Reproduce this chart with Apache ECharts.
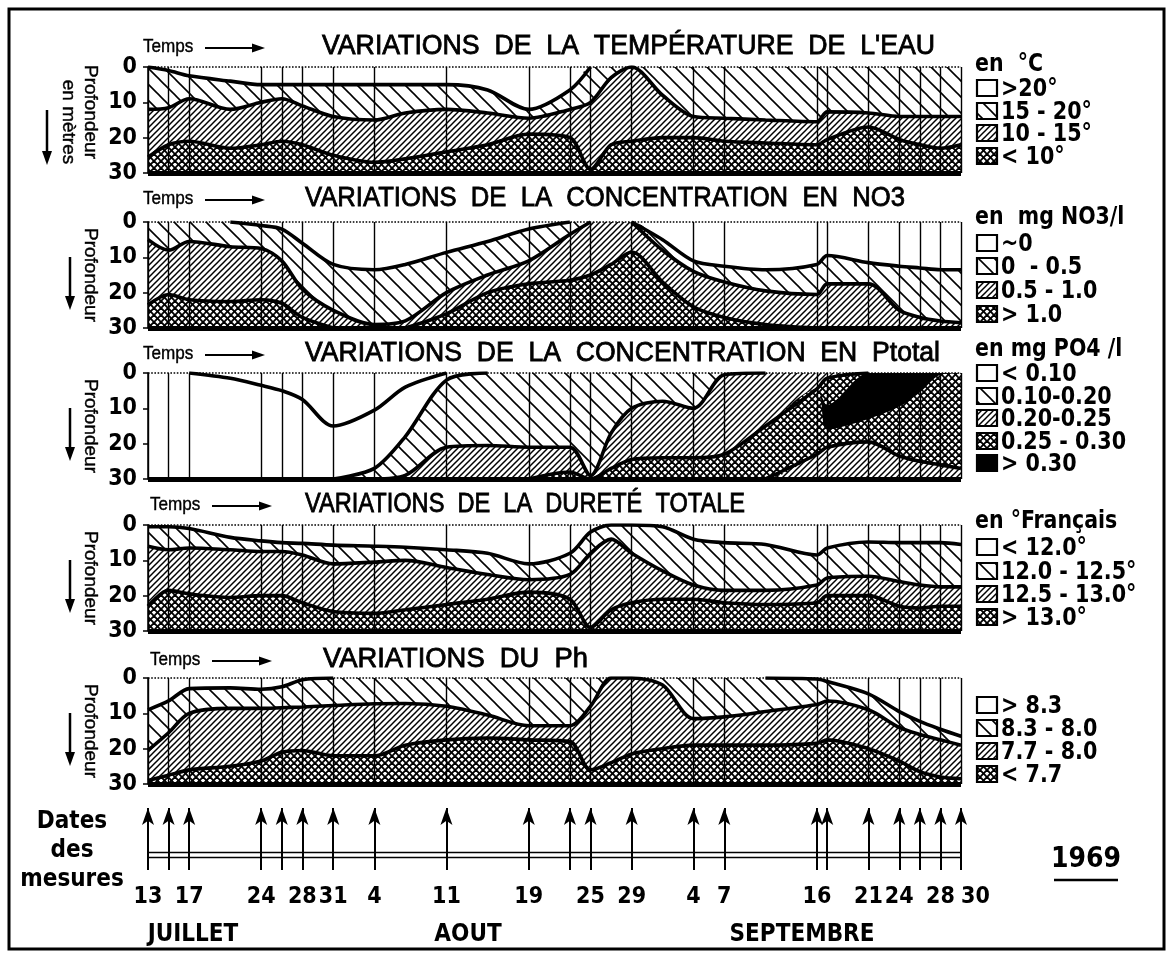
<!DOCTYPE html>
<html>
<head>
<meta charset="utf-8">
<script src="https://cdn.jsdelivr.net/npm/echarts@6/dist/echarts.min.js"></script>
<style>
  html, body { margin: 0; background: #fff; }
  #chart { width: 1171px; height: 958px; }
</style>
</head>
<body>
<div id="chart"></div>
<script>
// jours depuis le 13 juillet 1969
const days = [0, 2, 4, 8, 11, 13, 15, 18, 22, 25, 29, 33, 37, 41, 43, 45, 47, 50, 53, 56, 60, 65, 66, 70, 73, 75, 77, 79];
const measureDays = [0, 2, 4, 11, 13, 15, 18, 22, 29, 37, 41, 43, 47, 53, 56, 65, 66, 70, 73, 75, 77, 79];
const labelDays = [0, 4, 11, 15, 18, 22, 29, 37, 43, 47, 53, 56, 65, 70, 73, 77, 79];
const labelTexts = ['13', '17', '24', '28', '31', '4', '11', '19', '25', '29', '4', '7', '16', '21', '24', '28', '30'];
const months = ['JUILLET', 'AOUT', 'SEPTEMBRE'];

// profondeur (m) des limites, temperature
const temp20 = [0, 1, 2.5, 4, 5, 5, 5, 5, 5, 5, 5, 6.5, 12, 6.5, 0, 0, 0, 0, 0, 0, 0, 0, 0, 0, 0, 0, 0, 0];
const temp15 = [12, 11.5, 9, 12, 10, 9, 11, 14, 15, 13, 12, 13, 14.5, 12, 10, 3, 0, 8, 14, 14.5, 15, 15.5, 12.7, 13, 14, 14, 14, 14];
const temp10 = [25.5, 22, 21, 23, 22, 21, 22, 25, 27, 26, 24, 22, 19, 20, 29, 22, 21, 20, 20, 21, 21.5, 22, 20.5, 17, 20.5, 22, 23, 22];

// NO3
const no3Zero = [0, 0, 0, 0, 1, 2, 6, 12, 13.5, 12, 8.6, 5.5, 2, 0, 0, 0, 0, 5, 11, 12.5, 13.5, 12, 9.5, 11.5, 12.5, 13, 13.5, 13.5];
const no3Half = [5, 8, 5.5, 7, 7.5, 11, 19, 25, 29, 28, 20, 15, 11, 3.5, 0, 0, 0, 8, 14, 17, 19.5, 20.5, 17.5, 17.5, 25, 27, 28, 28.5];
const no3One = [23.5, 20.5, 22, 22.5, 22, 23, 27, 30, 30, 30, 26, 20, 17.5, 16.5, 15, 12, 8.5, 17, 24, 27, 29, 30, 30, 30, 30, 30, 30, 30];

// P total
const pCurve = [0, 0, 0, 1.5, 3.5, 5, 7.5, 15, 10.5, 4, 0, 0, 0, 0, 0, 0, 0, 0, 0, 0, 0, 0, 0, 0, 0, 0, 0, 0];
const p010 = [30, 30, 30, 30, 30, 30, 30, 30, 27, 18, 2, 0, 0, 0, 0, 0, 0, 0, 0, 0, 0, 0, 0, 0, 0, 0, 0, 0];
const p020 = [30, 30, 30, 30, 30, 30, 30, 30, 30, 29, 21, 20.5, 21, 21, 29, 17, 10, 8, 10, 0.5, 0, 0, 0, 0, 0, 0, 0, 0];
const p025 = [30, 30, 30, 30, 30, 30, 30, 30, 30, 30, 30, 30, 30, 28, 30, 27, 24.5, 24, 24, 23, 15, 4.5, 1.5, 0, 0, 0, 0, 0];
const p030Top = [30, 30, 30, 30, 30, 30, 30, 30, 30, 30, 30, 30, 30, 28, 30, 27, 24.5, 24, 24, 23, 15, 4.5, 9, 0, 0, 0, 0, 0];
const p030Bot = [30, 30, 30, 30, 30, 30, 30, 30, 30, 30, 30, 30, 30, 28, 30, 27, 24.5, 24, 24, 23, 15, 4.5, 16, 13, 9.5, 5.5, 0.5, 0];
const pDeep = [30, 30, 30, 30, 30, 30, 30, 30, 30, 30, 30, 30, 30, 30, 30, 30, 30, 30, 30, 30, 30, 23, 21, 19.5, 23.5, 25, 26, 27];

// durete totale
const hard120 = [0.5, 0.5, 1, 3.5, 4.5, 5, 5.2, 5.7, 6, 6.3, 7, 8, 11, 8, 2, 0, 0, 0.5, 4, 5, 5.5, 8.5, 6.5, 4.8, 5, 5, 5, 5.5];
const hard125 = [6, 7, 6.5, 7, 7.5, 7.5, 8.5, 11, 10.5, 10, 12, 14, 15.5, 14, 8, 4, 8, 13, 17, 18.5, 18.5, 17, 15, 14.5, 16, 17, 17.5, 17.5];
const hard130 = [23, 18.5, 19.5, 20.5, 20, 20, 22, 24.5, 25, 24, 22.5, 21, 19, 21, 29, 24, 22, 21, 21, 22, 22.5, 22, 20, 20, 23, 23.5, 23, 23];

// pH
const ph83 = [9, 6.5, 3, 2.8, 3.2, 2.5, 0.5, 0, 0, 0, 0, 0, 0, 0, 0, 0, 0, 0, 0, 0, 0, 0.3, 1, 4.5, 9.5, 12.3, 14.5, 16.5];
const ph80 = [20.5, 15.5, 10, 8.6, 8.6, 8.4, 8.2, 7.8, 7.3, 7.2, 8, 10.5, 13.5, 13.5, 8, 0, 0, 2, 11.5, 11, 9.5, 7.5, 6.5, 9, 14, 16, 17.5, 19];
const ph77 = [29, 27.5, 26, 25, 23.5, 21, 20.5, 22, 22, 19, 17.5, 17, 17.5, 18, 26, 24, 21.5, 20, 19, 19, 19, 18.5, 17.5, 20, 23.5, 26.5, 28, 28.5];

const FONT = '"Liberation Sans Narrow","DejaVu Sans Condensed","Liberation Sans",sans-serif';
const PLAIN = '"Liberation Sans",Arial,sans-serif';

function makePat(s, dirs, lw) {
  const c = document.createElement('canvas');
  c.width = s; c.height = s;
  const g = c.getContext('2d');
  g.fillStyle = '#fff';
  g.fillRect(0, 0, s, s);
  g.strokeStyle = '#000';
  g.lineWidth = lw;
  dirs.forEach(dir => {
    for (let k = -1; k <= 1; k++) {
      g.beginPath();
      if (dir === 'b') { g.moveTo(k * s - 1, -1); g.lineTo(k * s + s + 1, s + 1); }
      else { g.moveTo(k * s - 1, s + 1); g.lineTo(k * s + s + 1, -1); }
      g.stroke();
    }
  });
  return { image: c, repeat: 'repeat' };
}

const PAT = {
  white: '#fff',
  sparse: makePat(16, ['b'], 1.6),
  dense: makePat(6, ['f'], 1.5),
  cross: makePat(7, ['b', 'f'], 1.9),
  black: '#000'
};

const panels = [
  { top: 67, bounds: [temp20, temp15, temp10], fills: ['sparse', 'dense', 'cross'], strokes: [1, 1, 1] },
  { top: 222, bounds: [no3Zero, no3Half, no3One], fills: ['sparse', 'dense', 'cross'], strokes: [1, 1, 1] },
  { top: 373, bounds: [pCurve, p010, p020, p025, p030Top, p030Bot, pDeep],
    fills: ['white', 'sparse', 'dense', 'cross', 'black', 'cross', 'dense'], strokes: [1, 1, 1, 1, 0, 0, 1] },
  { top: 525, bounds: [hard120, hard125, hard130], fills: ['sparse', 'dense', 'cross'], strokes: [1, 1, 1] },
  { top: 678, bounds: [ph83, ph80, ph77], fills: ['sparse', 'dense', 'cross'], strokes: [1, 1, 1] }
];
const PH = 106;

function strokeData(arr) {
  const inside = v => v > 0.01 && v < 29.99;
  return days.map((d, j) => {
    const keep = inside(arr[j]) || (j > 0 && inside(arr[j - 1])) || (j < arr.length - 1 && inside(arr[j + 1]));
    return [d, keep ? arr[j] : null];
  });
}

const grids = [], xAxes = [], yAxes = [], series = [];
panels.forEach((p, i) => {
  grids.push({ left: 148, right: 210, top: p.top, height: PH });
  xAxes.push({ gridIndex: i, type: 'value', min: 0, max: 79, show: false });
  yAxes.push({
    gridIndex: i, type: 'value', inverse: true, min: 0, max: 30, interval: 10, offset: 8,
    axisLine: { show: true, lineStyle: { color: '#000', width: 1.5 } },
    axisTick: { show: true, length: 5, lineStyle: { color: '#000', width: 1.5 } },
    axisLabel: { color: '#000', fontSize: 23, fontWeight: 'bold', fontFamily: FONT, margin: 3 },
    splitLine: { show: false }
  });
  p.bounds.forEach((arr, k) => {
    series.push({
      type: 'line', xAxisIndex: i, yAxisIndex: i, silent: true, z: 2,
      data: days.map((d, j) => [d, arr[j]]),
      smooth: 0.3, symbol: 'none',
      lineStyle: { width: 0, opacity: 0 },
      areaStyle: { color: PAT[p.fills[k]], opacity: 1, origin: 'end' }
    });
  });
  series.push({
    type: 'line', xAxisIndex: i, yAxisIndex: i, silent: true, z: 3,
    data: [[0, 0]], symbol: 'none', lineStyle: { opacity: 0 },
    markLine: {
      silent: true, symbol: 'none', animation: false, label: { show: false },
      data: measureDays.map(d => ({ xAxis: d, lineStyle: { color: '#000', width: 1.4, type: 'solid' } }))
        .concat([
          { yAxis: 0, lineStyle: { color: '#000', width: 1.6, type: 'dotted' } },
          { yAxis: 30, lineStyle: { color: '#000', width: 5, type: 'solid' } }
        ])
    }
  });
  p.bounds.forEach((arr, k) => {
    if (!p.strokes[k]) return;
    series.push({
      type: 'line', xAxisIndex: i, yAxisIndex: i, silent: true, z: 4,
      data: strokeData(arr), connectNulls: false,
      smooth: 0.3, symbol: 'none',
      lineStyle: { color: '#000', width: 3.6 }
    });
  });
});

// frise des dates de mesure ; le dernier libelle (30) sur un second axe, cale a droite de sa fleche
const labelMap = {};
labelDays.forEach((d, i) => { labelMap[d] = labelTexts[i]; });
const dateLabelStyle = { color: '#000', fontSize: 23, fontWeight: 'bold', fontFamily: FONT, margin: 16 };
grids.push({ left: 148, right: 210, top: 808, height: 62 });
xAxes.push({
  gridIndex: 5, type: 'value', min: 0, max: 79, position: 'bottom',
  axisLine: { show: false }, axisTick: { show: false }, splitLine: { show: false },
  axisLabel: Object.assign({ customValues: labelDays.slice(0, -1), formatter: v => labelMap[v] || '' }, dateLabelStyle)
});
xAxes.push({
  gridIndex: 5, type: 'value', min: 0, max: 79, position: 'bottom',
  axisLine: { show: false }, axisTick: { show: false }, splitLine: { show: false },
  axisLabel: Object.assign({ customValues: labelDays.slice(-1), formatter: v => labelMap[v] || '', align: 'left' }, dateLabelStyle)
});
yAxes.push({ gridIndex: 5, type: 'value', min: 0, max: 1, show: false });
series.push({
  type: 'line', xAxisIndex: 5, yAxisIndex: 5, silent: true, z: 3,
  data: [[0, 0]], symbol: 'none', lineStyle: { opacity: 0 },
  markLine: {
    silent: true, symbol: 'none', animation: false, label: { show: false },
    data: [
      { yAxis: 0.28, lineStyle: { color: '#000', width: 1.4, type: 'solid' } },
      { yAxis: 0.2, lineStyle: { color: '#000', width: 1.4, type: 'solid' } }
    ]
  }
});
series.push({
  type: 'line', xAxisIndex: 5, yAxisIndex: 5, silent: true, z: 4,
  data: [[0, 0]], symbol: 'none', lineStyle: { opacity: 0 },
  markLine: {
    silent: true, symbol: ['none', 'arrow'], symbolSize: [9, 17], animation: false, label: { show: false },
    lineStyle: { color: '#000', width: 2, type: 'solid' },
    data: measureDays.map(d => [{ coord: [d, 0] }, { coord: [d, 1] }])
  }
});

// textes et legende
const measure = document.createElement('canvas').getContext('2d');
function fitScale(str, font, width) {
  measure.font = font;
  return width / measure.measureText(str).width;
}
const G = [];
function text(str, x, y, opt) {
  opt = opt || {};
  const font = opt.font || ('bold 23px ' + FONT);
  G.push({
    type: 'text', x: x, y: y, z: 20, rotation: opt.rotation || 0, scaleX: opt.scaleX || 1,
    style: {
      text: str, font: font, fill: '#000',
      align: opt.align || 'left', textAlign: opt.align || 'left',
      verticalAlign: 'middle', textVerticalAlign: 'middle',
      stroke: opt.stroke ? '#000' : null, lineWidth: opt.stroke || 0
    }
  });
}
function arrowRight(x1, x2, y) {
  G.push({ type: 'line', z: 20, shape: { x1: x1, y1: y, x2: x2 - 8, y2: y }, style: { stroke: '#000', lineWidth: 2 } });
  G.push({ type: 'polygon', z: 20, shape: { points: [[x2, y], [x2 - 13, y - 4.5], [x2 - 13, y + 4.5]] }, style: { fill: '#000' } });
}
function arrowDown(x, y1, y2) {
  G.push({ type: 'line', z: 20, shape: { x1: x, y1: y1, x2: x, y2: y2 - 8 }, style: { stroke: '#000', lineWidth: 2.5 } });
  G.push({ type: 'polygon', z: 20, shape: { points: [[x, y2], [x - 5, y2 - 14], [x + 5, y2 - 14]] }, style: { fill: '#000' } });
}

const titles = [
  { t: 'VARIATIONS  DE  LA  TEMPÉRATURE  DE  L\'EAU', x1: 322, x2: 935, y: 47, tx: 143 },
  { t: 'VARIATIONS  DE  LA  CONCENTRATION  EN  NO3', x1: 305, x2: 905, y: 199, tx: 143 },
  { t: 'VARIATIONS  DE  LA  CONCENTRATION  EN  Ptotal', x1: 305, x2: 940, y: 354, tx: 143 },
  { t: 'VARIATIONS  DE  LA  DURETÉ  TOTALE', x1: 305, x2: 745, y: 505, tx: 150 },
  { t: 'VARIATIONS  DU  Ph', x1: 323, x2: 588, y: 660, tx: 150 }
];
const titleFont = '27px ' + PLAIN;
titles.forEach(tt => {
  text(tt.t, tt.x1, tt.y, { font: titleFont, scaleX: fitScale(tt.t, titleFont, tt.x2 - tt.x1), stroke: 0.8 });
  text('Temps', tt.tx, tt.y, { font: '19px ' + PLAIN, scaleX: 0.9, stroke: 0.4 });
  arrowRight(tt.tx + 62, tt.tx + 122, tt.y + 1);
});

panels.forEach((p, i) => {
  const cy = p.top + PH / 2;
  if (i === 0) {
    text('Profondeur', 90, cy - 8, { font: '19px ' + PLAIN, rotation: -Math.PI / 2, align: 'center', stroke: 0.4 });
    text('en mètres', 68, cy + 2, { font: '19px ' + PLAIN, rotation: -Math.PI / 2, align: 'center', stroke: 0.4 });
    arrowDown(47, cy - 10, cy + 45);
  } else {
    text('Profondeur', 90, cy, { font: '19px ' + PLAIN, rotation: -Math.PI / 2, align: 'center', stroke: 0.4 });
    arrowDown(70, cy - 18, cy + 35);
  }
});

const legends = [
  { head: 'en  °C', hy: 65, ys: [88, 111, 133, 156], fills: ['white', 'sparse', 'dense', 'cross'], texts: ['>20°', '15 - 20°', '10 - 15°', '< 10°'] },
  { head: 'en  mg NO3/l', hy: 218, ys: [243, 266, 290, 314], fills: ['white', 'sparse', 'dense', 'cross'], texts: ['~0', '0  - 0.5', '0.5 - 1.0', '> 1.0'] },
  { head: 'en mg PO4 /l', hy: 350, ys: [373, 396, 418, 441, 463], fills: ['white', 'sparse', 'dense', 'cross', 'black'], texts: ['< 0.10', '0.10-0.20', '0.20-0.25', '0.25 - 0.30', '> 0.30'] },
  { head: 'en °Français', hy: 522, ys: [547, 571, 594, 617], fills: ['white', 'sparse', 'dense', 'cross'], texts: ['< 12.0°', '12.0 - 12.5°', '12.5 - 13.0°', '> 13.0°'] },
  { head: '', hy: 0, ys: [705, 728, 751, 774], fills: ['white', 'sparse', 'dense', 'cross'], texts: ['> 8.3', '8.3 - 8.0', '7.7 - 8.0', '< 7.7'] }
];
legends.forEach(lg => {
  if (lg.head) text(lg.head, 975, lg.hy, { font: 'bold 24px ' + FONT, scaleX: 0.95 });
  lg.ys.forEach((y, k) => {
    G.push({ type: 'rect', z: 20, shape: { x: 977, y: y - 8, width: 20, height: 16 },
      style: { fill: PAT[lg.fills[k]], stroke: '#000', lineWidth: 2.2 } });
    text(lg.texts[k], 1001, y + 1, { font: 'bold 25px ' + FONT, scaleX: 0.92 });
  });
});

text('Dates', 72, 822, { align: 'center', font: 'bold 24px ' + FONT });
text('des', 72, 851, { align: 'center', font: 'bold 24px ' + FONT });
text('mesures', 72, 880, { align: 'center', font: 'bold 24px ' + FONT });
text(months[0], 193, 935, { align: 'center', font: 'bold 24px ' + FONT });
text(months[1], 468, 935, { align: 'center', font: 'bold 24px ' + FONT });
text(months[2], 802, 935, { align: 'center', font: 'bold 24px ' + FONT });
text('1969', 1086, 860, { align: 'center', font: 'bold 28px ' + FONT });
G.push({ type: 'line', z: 20, shape: { x1: 1054, y1: 880, x2: 1118, y2: 880 }, style: { stroke: '#000', lineWidth: 2.5 } });
G.push({ type: 'rect', z: 20, shape: { x: 9, y: 9, width: 1155, height: 940 }, style: { fill: 'none', stroke: '#000', lineWidth: 3 } });

const chart = echarts.init(document.getElementById('chart'));
chart.setOption({
  animation: false,
  backgroundColor: '#fff',
  grid: grids,
  xAxis: xAxes,
  yAxis: yAxes,
  series: series,
  graphic: { elements: G }
});
</script>
</body>
</html>
